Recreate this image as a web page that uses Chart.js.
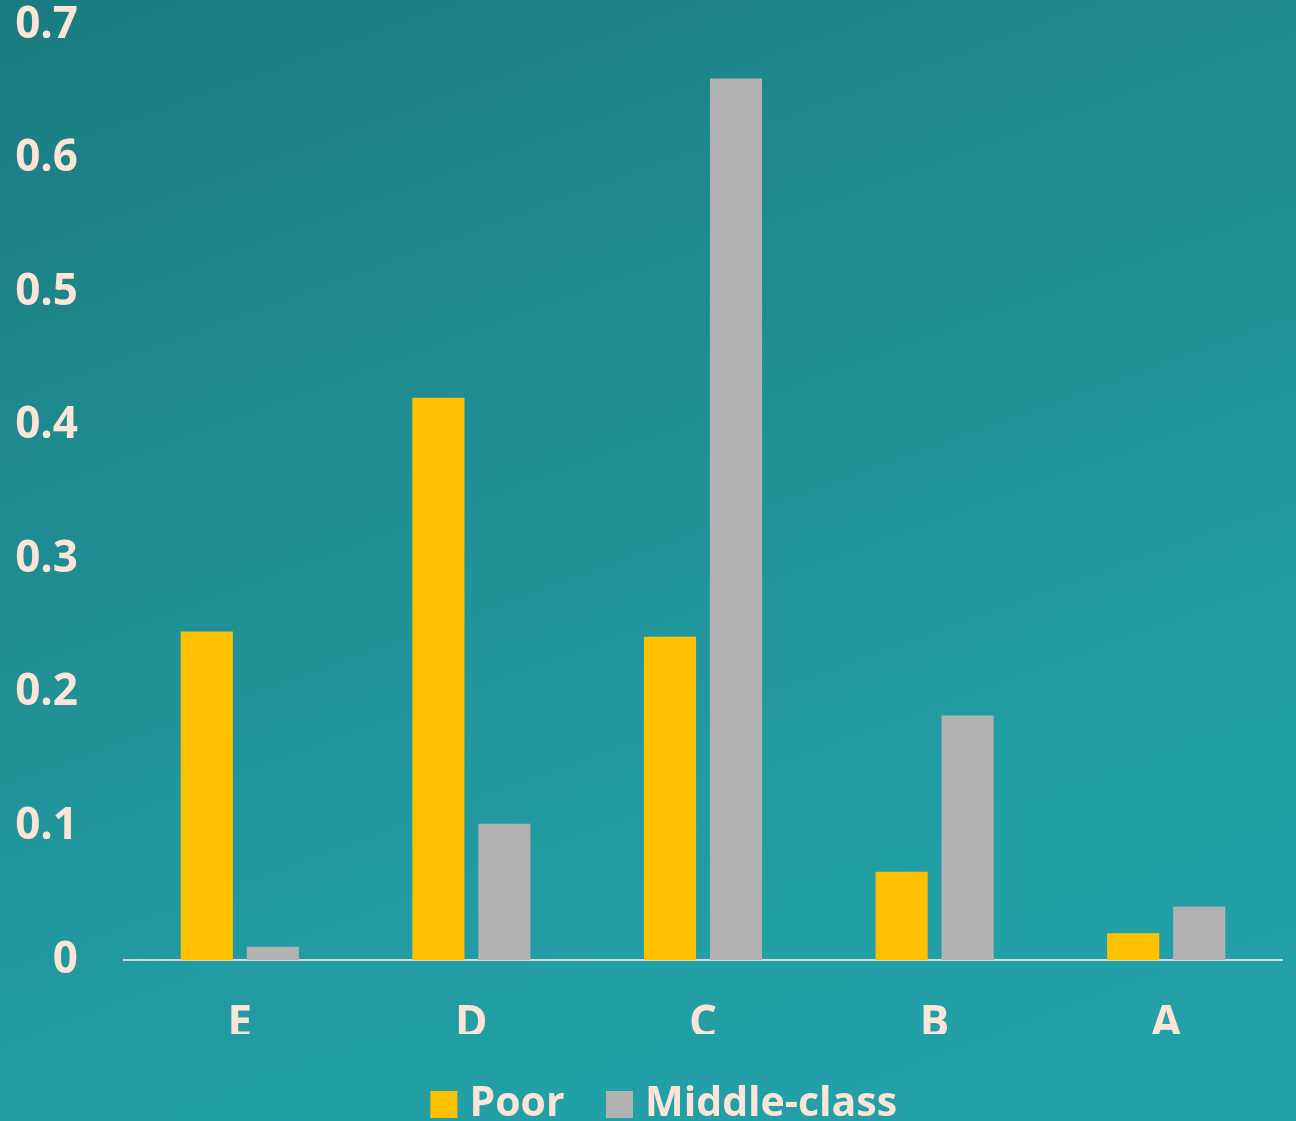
<!DOCTYPE html>
<html>
<head>
<meta charset="utf-8">
<script src="https://cdn.jsdelivr.net/npm/chart.js@4.4.1/dist/chart.umd.min.js"></script>
<style>
  html, body {
    margin: 0;
    padding: 0;
    width: 1296px;
    height: 1121px;
    overflow: hidden;
  }
  body {
    background: linear-gradient(160deg, #1a7c80 0%, #1f8f95 40%, #229ea5 75%, #24a2a9 100%);
  }
  #wrap {
    width: 1296px;
    height: 1135px;
  }
</style>
</head>
<body>
<div id="wrap"><canvas id="incomeChart"></canvas></div>
<script>
// income groups, poorest first
const categories = ["E", "D", "C", "B", "A"]

const poor = [0.246, 0.421, 0.242, 0.066, 0.020]
const middleClass = [0.010, 0.102, 0.660, 0.183, 0.040]

const yTicks = [0, 0.1, 0.2, 0.3, 0.4, 0.5, 0.6, 0.7]

const textColor = "#fce4d6"
const fontFamily = "'Open Sans', 'DejaVu Sans', sans-serif"

// nudge the legend row a little to the right of centre
const legendShift = {
    id: "legendShift",
    afterLayout(chart) {
        chart.legend.left += 27
        chart.legend.right += 27
    }
}

const ctx = document.getElementById("incomeChart")

new Chart(ctx, {

    type: "bar",

    data: {

        labels: categories,

        datasets: [
            {
                label: "Poor",
                data: poor,
                backgroundColor: "#ffc000",
                categoryPercentage: 0.57,
                barPercentage: 0.79
            },
            {
                label: "Middle-class",
                data: middleClass,
                backgroundColor: "#b2b2b2",
                categoryPercentage: 0.57,
                barPercentage: 0.79
            }
        ]

    },

    plugins: [legendShift],

    options: {

        responsive: true,
        maintainAspectRatio: false,
        animation: false,

        layout: {
            padding: { top: 0, right: 14, bottom: 0, left: 0 }
        },

        plugins: {

            tooltip: { enabled: false },

            legend: {
                position: "bottom",
                labels: {
                    color: textColor,
                    font: { family: fontFamily, size: 41, weight: "bold" },
                    usePointStyle: true,
                    pointStyle: "rect",
                    boxWidth: 10,
                    boxHeight: 27,
                    padding: 50
                }
            }

        },

        scales: {

            x: {
                grid: { display: false, drawTicks: false },
                border: { display: true, color: "#d9d9d9", width: 2 },
                ticks: {
                    color: textColor,
                    font: { family: fontFamily, size: 44, weight: "bold" },
                    padding: 38
                },
                afterFit: scale => { scale.height = 74 }
            },

            y: {
                min: 0,
                max: 0.7,
                grid: { display: false, drawTicks: false },
                border: { display: false },
                afterBuildTicks: scale => {
                    scale.ticks = yTicks.map(v => ({ value: v }))
                },
                ticks: {
                    color: textColor,
                    font: { family: fontFamily, size: 44, weight: "bold" },
                    padding: 46,
                    callback: v => String(v)
                },
                afterFit: scale => {
                    scale.width = 124
                    scale.paddingTop = 25
                    scale.paddingBottom = 0
                }
            }

        }

    }

})
</script>
</body>
</html>
